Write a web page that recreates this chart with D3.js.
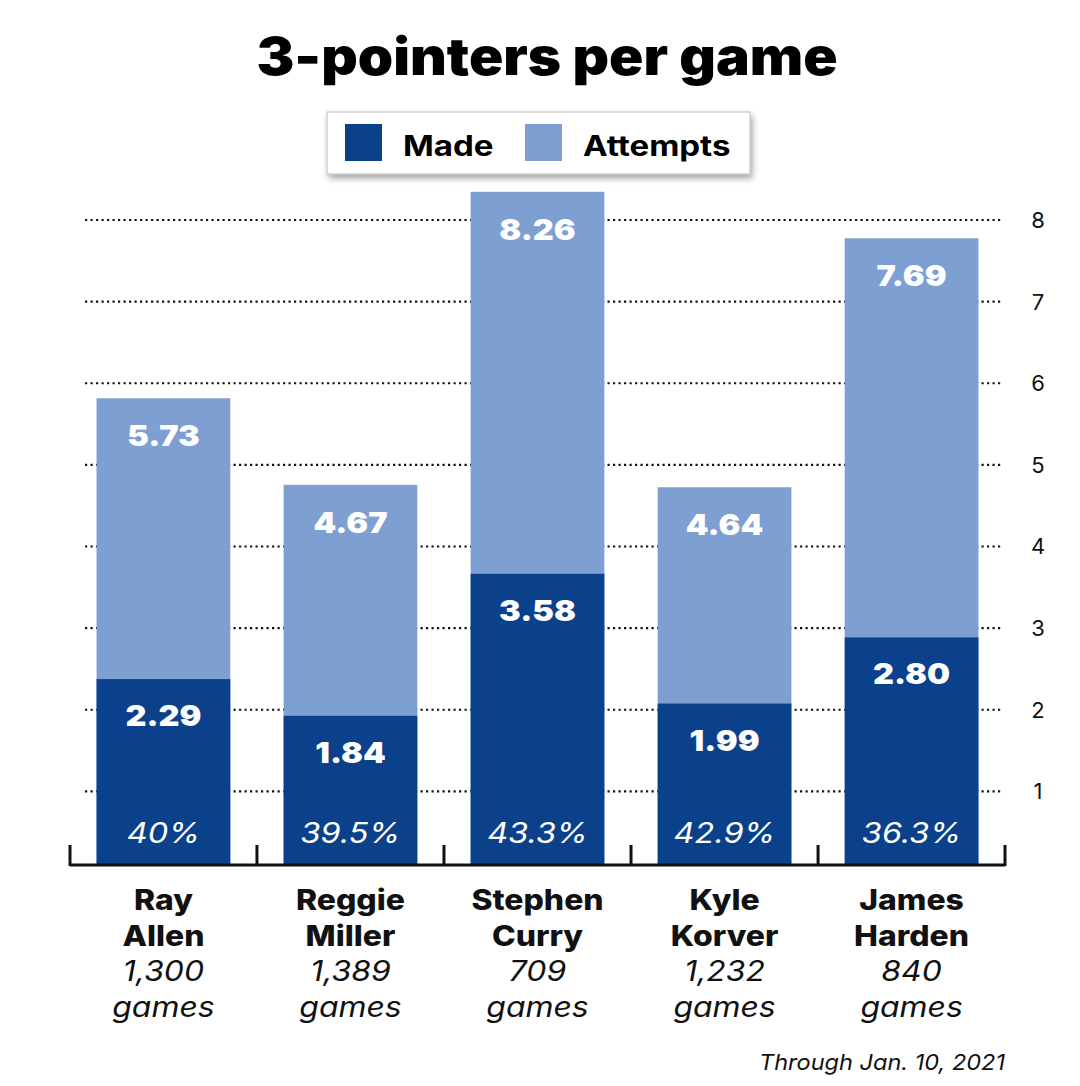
<!DOCTYPE html>
<html>
<head>
<meta charset="utf-8">
<script src="https://cdn.jsdelivr.net/npm/d3@7"></script>
<style>
  html, body { margin: 0; padding: 0; background: #fff; }
  svg { display: block; font-family: Inter, "Noto Sans", sans-serif; }
</style>
</head>
<body>
<div id="chart"></div>
<script>
const players = ["Ray Allen", "Reggie Miller", "Stephen Curry", "Kyle Korver", "James Harden"];
const made = [2.29, 1.84, 3.58, 1.99, 2.80];
const attempts = [5.73, 4.67, 8.26, 4.64, 7.69];
const pct = ["40%", "39.5%", "43.3%", "42.9%", "36.3%"];
const games = ["1,300", "1,389", "709", "1,232", "840"];
const yTicks = [1, 2, 3, 4, 5, 6, 7, 8];

const width = 1080, height = 1086;
const dark = "#0b418a", light = "#7d9fd2";

const svg = d3.select("#chart").append("svg")
    .attr("width", width)
    .attr("height", height);

const x = d3.scaleBand()
    .domain(players)
    .range([70, 1005])
    .paddingInner(0.285)
    .paddingOuter(0.142);

const y = d3.scaleLinear()
    .domain([0, 8])
    .range([866, 213]);

const gridShift = 7; // grid sits a touch lower than the bars in the original

// the original face is a wide geometric sans, so stretch Inter sideways a bit
const wide = (sx) => (px, py) => `translate(${px},${py}) scale(${sx},1)`;

// title
svg.append("text")
    .attr("transform", wide(1.09)(547, 75))
    .attr("text-anchor", "middle")
    .attr("font-size", 52)
    .attr("font-weight", 900)
    .text("3-pointers per game");

// legend
const defs = svg.append("defs");
const f = defs.append("filter").attr("id", "shadow")
    .attr("x", "-10%").attr("y", "-30%").attr("width", "120%").attr("height", "170%");
f.append("feDropShadow").attr("dx", 2).attr("dy", 4).attr("stdDeviation", 3)
    .attr("flood-color", "#000").attr("flood-opacity", 0.35);

const legend = svg.append("g");
legend.append("rect")
    .attr("x", 327).attr("y", 112).attr("width", 423).attr("height", 62)
    .attr("fill", "#fff").attr("stroke", "#bbb").attr("stroke-width", 1)
    .attr("filter", "url(#shadow)");
const legendItems = [
    { label: "Made", color: dark, x: 345 },
    { label: "Attempts", color: light, x: 525 }
];
legendItems.forEach(d => {
    legend.append("rect")
        .attr("x", d.x).attr("y", 124).attr("width", 37).attr("height", 37)
        .attr("fill", d.color);
    legend.append("text")
        .attr("transform", wide(1.18)(d.x + 58, 156))
        .attr("font-size", 28).attr("font-weight", 700)
        .text(d.label);
});

// dotted grid + right tick labels
const grid = svg.append("g").attr("transform", `translate(0,${gridShift})`);
grid.selectAll("line")
    .data(yTicks)
    .join("line")
    .attr("x1", 85).attr("x2", 1003)
    .attr("y1", d => y(d)).attr("y2", d => y(d))
    .attr("stroke", "#111")
    .attr("stroke-width", 2.2)
    .attr("stroke-dasharray", "2.2,3.3");
grid.selectAll("text")
    .data(yTicks)
    .join("text")
    .attr("x", 1038).attr("y", d => y(d))
    .attr("dy", "0.36em")
    .attr("text-anchor", "middle")
    .attr("font-size", 22)
    .attr("fill", "#111")
    .text(d => d);

// bars
const rows = players.map((p, i) => ({ p, made: made[i], att: attempts[i], pct: pct[i], games: games[i] }));

const bars = svg.append("g");
bars.selectAll("rect.att")
    .data(rows)
    .join("rect")
    .attr("class", "att")
    .attr("x", d => x(d.p))
    .attr("width", x.bandwidth())
    .attr("y", d => y(d.att))
    .attr("height", d => y(0) - y(d.att))
    .attr("fill", light);
bars.selectAll("rect.made")
    .data(rows)
    .join("rect")
    .attr("class", "made")
    .attr("x", d => x(d.p))
    .attr("width", x.bandwidth())
    .attr("y", d => y(d.made))
    .attr("height", d => y(0) - y(d.made))
    .attr("fill", dark);

const cx = d => x(d.p) + x.bandwidth() / 2;

bars.selectAll("text.attv")
    .data(rows)
    .join("text")
    .attr("transform", d => wide(1.12)(cx(d), y(d.att) + 48))
    .attr("text-anchor", "middle")
    .attr("font-size", 29).attr("font-weight", 900)
    .attr("fill", "#fff")
    .text(d => d.att.toFixed(2));
bars.selectAll("text.madev")
    .data(rows)
    .join("text")
    .attr("transform", d => wide(1.12)(cx(d), y(d.made) + 47))
    .attr("text-anchor", "middle")
    .attr("font-size", 29).attr("font-weight", 900)
    .attr("fill", "#fff")
    .text(d => d.made.toFixed(2));
bars.selectAll("text.pct")
    .data(rows)
    .join("text")
    .attr("transform", d => wide(1.16)(cx(d), 843))
    .attr("text-anchor", "middle")
    .attr("font-size", 28).attr("font-style", "italic")
    .attr("fill", "#fff")
    .text(d => d.pct);

// bottom axis with upward ticks at band edges
const axis = svg.append("g");
axis.append("line")
    .attr("x1", 70).attr("x2", 1005)
    .attr("y1", 865).attr("y2", 865)
    .attr("stroke", "#111").attr("stroke-width", 3);
const edges = players.map(p => x(p) - x.step() * x.paddingInner() / 2).concat([x.range()[1]]);
edges[0] = x.range()[0];
axis.selectAll("line.tick")
    .data(edges)
    .join("line")
    .attr("class", "tick")
    .attr("x1", d => d).attr("x2", d => d)
    .attr("y1", 845).attr("y2", 866)
    .attr("stroke", "#111").attr("stroke-width", 3);

// category labels
const labels = svg.append("g");
rows.forEach(d => {
    const parts = d.p.split(" ");
    const lines = [
        { t: parts[0], y: 910, bold: true },
        { t: parts[1], y: 946, bold: true },
        { t: d.games, y: 981, bold: false },
        { t: "games", y: 1017, bold: false }
    ];
    lines.forEach(l => {
        labels.append("text")
            .attr("transform", wide(1.14)(cx(d), l.y))
            .attr("text-anchor", "middle")
            .attr("font-size", 28)
            .attr("font-weight", l.bold ? 800 : 400)
            .attr("font-style", l.bold ? "normal" : "italic")
            .attr("fill", "#111")
            .text(l.t);
    });
});

// footer
svg.append("text")
    .attr("transform", wide(1.07)(1005, 1070))
    .attr("text-anchor", "end")
    .attr("font-size", 22).attr("font-style", "italic")
    .attr("fill", "#111")
    .text("Through Jan. 10, 2021");
</script>
</body>
</html>
